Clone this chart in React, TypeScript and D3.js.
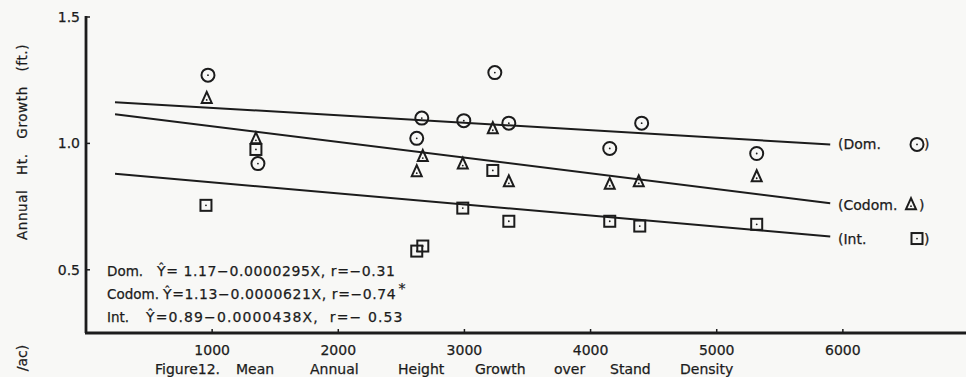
import React, { useEffect, useRef } from "react";
import * as d3 from "d3";

// stand density (trees/ac) for each plot, and mean annual height growth (ft.)
const domX = [967, 1363, 2622, 2662, 2995, 3241, 3352, 4152, 4405, 5317];
const domY = [1.27, 0.92, 1.02, 1.1, 1.09, 1.28, 1.08, 0.98, 1.08, 0.96];
const codomX = [957, 1347, 2622, 2670, 2987, 3225, 3352, 4152, 4382, 5317];
const codomY = [1.18, 1.02, 0.89, 0.95, 0.92, 1.06, 0.85, 0.84, 0.85, 0.87];
const intX = [951, 1347, 2622, 2670, 2987, 3225, 3352, 4152, 4390, 5317];
const intY = [0.755, 0.976, 0.574, 0.594, 0.744, 0.893, 0.692, 0.692, 0.673, 0.68];

// regression: intercept, slope
const fits = [
  { name: "Dom.", a: 1.17, b: 0.0000295 },
  { name: "Codom.", a: 1.13, b: 0.0000621 },
  { name: "Int.", a: 0.89, b: 0.0000438 }
];
const fitRange = [230, 5900];

const xTicks = [1000, 2000, 3000, 4000, 5000, 6000];
const yTicks = [0.5, 1.0, 1.5];

const equations = [
  { label: "Dom.", eq: "\u0176= 1.17\u22120.0000295X, r=\u22120.31", star: false },
  { label: "Codom.", eq: "\u0176=1.13\u22120.0000621X, r=\u22120.74", star: true },
  { label: "Int.", eq: "\u0176=0.89\u22120.0000438X,  r=\u2212 0.53", star: false }
];
const eqStart = [157, 163, 146];
const eqSpacing = [0.6, 0.6, 1.1];

const captionWords = ["Figure12.", "Mean", "Annual", "Height", "Growth", "over", "Stand", "Density"];
const captionPos = [155, 236, 310, 398, 475, 554, 610, 680];

const INK = "#1c1c1c";
const FONT = "'DejaVu Sans', 'Noto Sans', sans-serif";

export default function App() {
  const ref = useRef<SVGSVGElement>(null);

  useEffect(() => {
    const svg = d3.select(ref.current);
    svg.html("");

    const x = d3.scaleLinear().domain([0, 7000]).range([86, 969]);
    const y = d3.scaleLinear().domain([0.25, 1.5]).range([333, 17]);

    svg.append("rect").attr("width", 966).attr("height", 377).attr("fill", "#f8f8f6");

    const txt = (px: number, py: number, s: string, size = 14) =>
      svg
        .append("text")
        .attr("x", px)
        .attr("y", py)
        .attr("font-size", size)
        .attr("font-family", FONT)
        .attr("fill", INK)
        .attr("stroke", INK)
        .attr("stroke-width", 0.25)
        .attr("xml:space", "preserve")
        .text(s);

    // axes
    svg
      .append("line")
      .attr("x1", x(0))
      .attr("x2", x(0))
      .attr("y1", y(1.5) - 1)
      .attr("y2", y(0.25))
      .attr("stroke", INK)
      .attr("stroke-width", 2.8);
    svg
      .append("line")
      .attr("x1", x(0) - 1)
      .attr("x2", 966)
      .attr("y1", y(0.25))
      .attr("y2", y(0.25))
      .attr("stroke", INK)
      .attr("stroke-width", 2.8);

    yTicks.forEach(t => {
      svg
        .append("line")
        .attr("x1", x(0))
        .attr("x2", x(0) + 4)
        .attr("y1", y(t))
        .attr("y2", y(t))
        .attr("stroke", INK)
        .attr("stroke-width", 1.5);
      txt(x(0) - 6, y(t) + 5, d3.format(".1f")(t), 14).attr("text-anchor", "end");
    });

    xTicks.forEach(t => {
      svg
        .append("line")
        .attr("x1", x(t))
        .attr("x2", x(t))
        .attr("y1", y(0.25))
        .attr("y2", y(0.25) - 4)
        .attr("stroke", INK)
        .attr("stroke-width", 1.5);
      txt(x(t), 355, String(t), 14).attr("text-anchor", "middle");
    });

    // axis titles
    txt(0, 0, "Annual   Ht.   Growth   (ft.)", 13.5)
      .attr("transform", "translate(27,142) rotate(-90)")
      .attr("text-anchor", "middle")
      .attr("letter-spacing", 0.6);
    txt(0, 0, "/ac)", 14)
      .attr("transform", "translate(27,358) rotate(-90)")
      .attr("text-anchor", "middle");

    captionWords.forEach((w, i) => {
      txt(captionPos[i], 374, w, 14);
    });

    // regression lines
    fits.forEach(f => {
      const line = d3
        .line<number>()
        .x(d => x(d))
        .y(d => y(f.a - f.b * d));
      svg
        .append("path")
        .datum(fitRange)
        .attr("fill", "none")
        .attr("stroke", INK)
        .attr("stroke-width", 2)
        .attr("d", line);
    });

    // markers
    const circle = (g: any, cx: number, cy: number) => {
      g.append("circle").attr("cx", cx).attr("cy", cy).attr("r", 6.5).attr("fill", "none").attr("stroke", INK).attr("stroke-width", 2);
      g.append("circle").attr("cx", cx).attr("cy", cy).attr("r", 0.9).attr("fill", INK);
    };
    const tri = (g: any, cx: number, cy: number) => {
      g.append("path")
        .attr("d", `M${cx},${cy - 6}L${cx + 5},${cy + 5}L${cx - 5},${cy + 5}Z`)
        .attr("fill", "none")
        .attr("stroke", INK)
        .attr("stroke-width", 2);
      g.append("circle").attr("cx", cx).attr("cy", cy + 2).attr("r", 0.9).attr("fill", INK);
    };
    const sq = (g: any, cx: number, cy: number) => {
      g.append("rect")
        .attr("x", cx - 5.5)
        .attr("y", cy - 5.5)
        .attr("width", 11)
        .attr("height", 11)
        .attr("fill", "none")
        .attr("stroke", INK)
        .attr("stroke-width", 2);
      g.append("circle").attr("cx", cx).attr("cy", cy).attr("r", 0.9).attr("fill", INK);
    };

    const marks = svg.append("g");
    domX.forEach((d, i) => circle(marks, x(d), y(domY[i])));
    codomX.forEach((d, i) => tri(marks, x(d), y(codomY[i])));
    intX.forEach((d, i) => sq(marks, x(d), y(intY[i])));

    // right-side labels
    const labels = [
      { text: "(Dom.", draw: circle, sy: fits[0] },
      { text: "(Codom.", draw: tri, sy: fits[1] },
      { text: "(Int.", draw: sq, sy: fits[2] }
    ];
    labels.forEach((l, i) => {
      const ly = y(l.sy.a - l.sy.b * fitRange[1]) + (i === 0 ? 0 : 2);
      txt(838, ly + 5, l.text, 14);
      if (i === 1) {
        l.draw(svg, 911, ly - 1);
        txt(919, ly + 5, ")", 14);
      } else {
        l.draw(svg, 917, ly);
        txt(924, ly + 5, ")", 14);
      }
    });

    // equations
    equations.forEach((e, i) => {
      const ty = [276, 299, 322][i];
      txt(107, ty, e.label, 13.5);
      const t = txt(eqStart[i], ty, e.eq, 14).attr("letter-spacing", eqSpacing[i]);
      if (e.star) {
        const bb = (t.node() as SVGTextElement).getBBox();
        txt(bb.x + bb.width + 2, ty - 6, "*", 14);
      }
    });
  }, []);

  return (
    <div style={{ position: "fixed", left: 0, top: 0 }}>
      <svg ref={ref} width={966} height={377} style={{ display: "block" }} />
    </div>
  );
}
